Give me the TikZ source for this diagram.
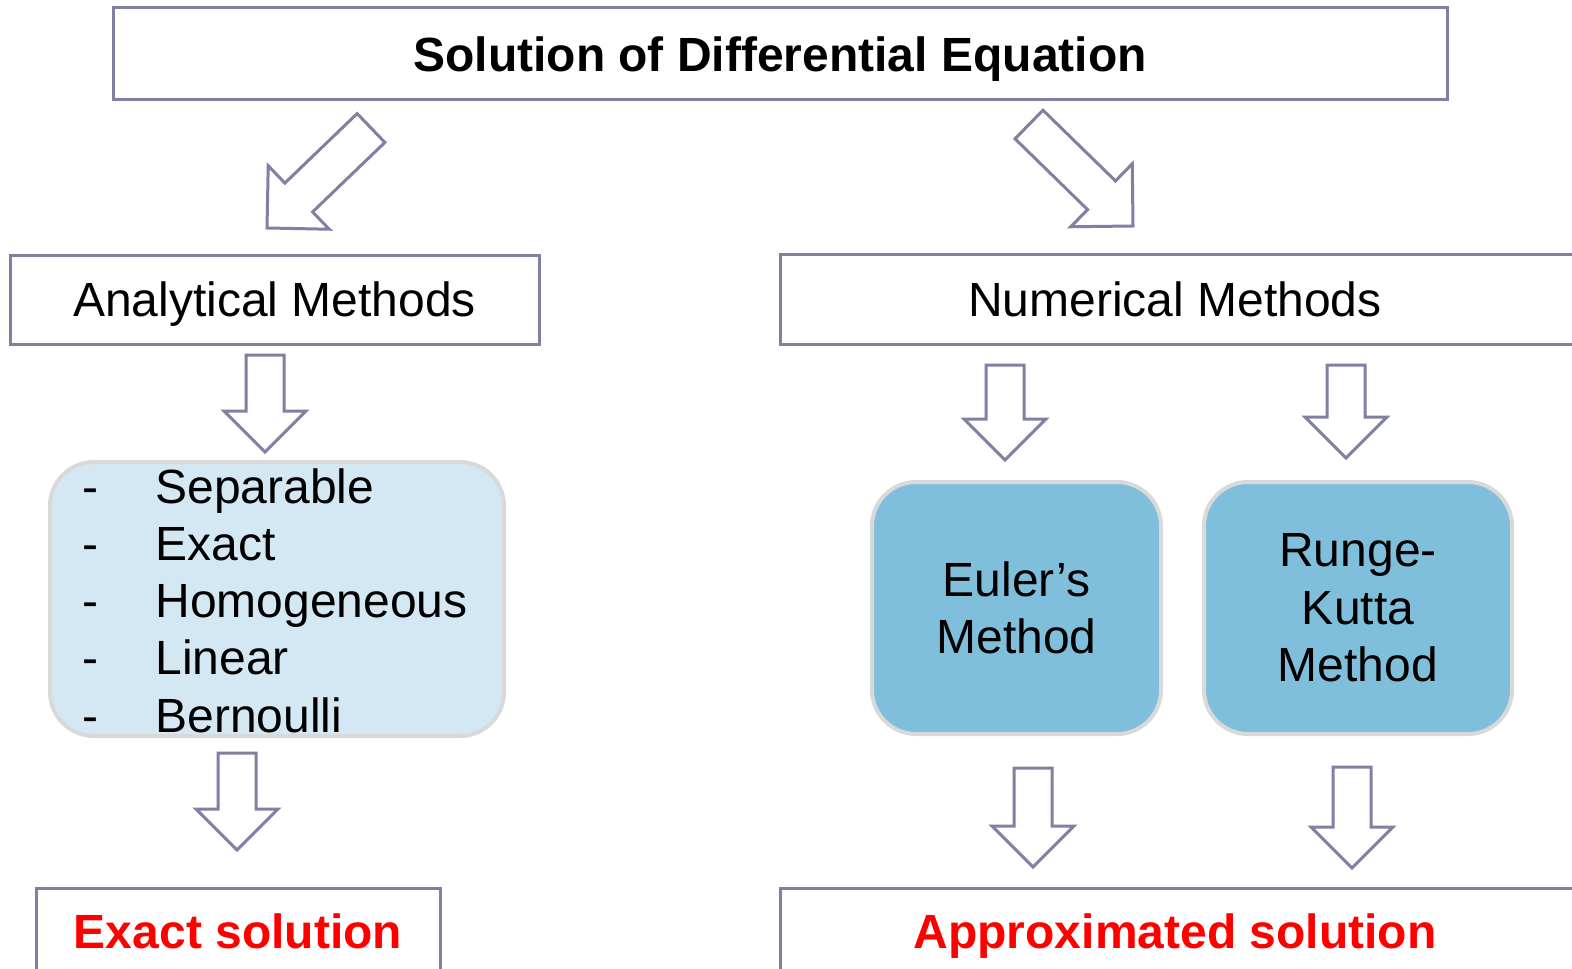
\documentclass[tikz,border=0pt]{standalone}
\usepackage{fontspec}
\setmainfont{Liberation Sans}
\usetikzlibrary{calc}
\definecolor{edgec}{RGB}{128,128,162}
\definecolor{lightfill}{RGB}{211,232,242}
\definecolor{midfill}{RGB}{127,191,219}
\definecolor{softgray}{RGB}{217,217,217}
\definecolor{redtxt}{RGB}{255,0,0}
\newcommand\blockarrow[4]{%
  \coordinate (ba) at ($(#2)!#4!(#1)$);
  \draw[arrowshape] ($(#1)!#3!90:(#2)$) -- ($(ba)!#3!90:(#2)$) -- ($(ba)!#4!90:(#2)$) -- (#2)
    -- ($(ba)!#4!-90:(#2)$) -- ($(ba)!#3!-90:(#2)$) -- ($(#1)!#3!-90:(#2)$) -- cycle;
}
\tikzset{
  plainbox/.style={draw=edgec, line width=1.5pt, fill=white, inner sep=0pt, text depth=0pt, font=\fontsize{24}{28.7}\selectfont},
  roundbox/.style={draw=softgray, line width=2pt, rounded corners=22pt, inner sep=0pt, font=\fontsize{24}{28.75}\selectfont, align=center},
  arrowshape/.style={draw=edgec, line width=1.5pt, fill=white, line join=miter},
  listtxt/.style={anchor=base west, inner sep=0pt, font=\fontsize{24}{28.7}\selectfont}
}
\begin{document}
\begin{tikzpicture}[x=0.5pt,y=-0.5pt]
\useasboundingbox (0,0) rectangle (1572,968);
\clip (0,0) rectangle (1572,968);
\fill[white] (0,0) rectangle (1572,968);

% boxes
\node[plainbox, minimum width=667pt, minimum height=46pt, font=\fontsize{24}{28.7}\selectfont\bfseries] (title) at (780,54) {Solution of Differential Equation};
\node[plainbox, minimum width=264.5pt, minimum height=44.5pt] (anal) at (274.5,299.5) {Analytical Methods};
\node[plainbox, minimum width=400pt, minimum height=45pt] (numer) at (1180,299.5) {\hspace*{-5pt}Numerical Methods};

\node[roundbox, fill=lightfill, minimum width=227pt, minimum height=137pt] (list) at (277,599) {};
\foreach \t [count=\i] in {Separable,Exact,Homogeneous,Linear,Bernoulli}{
  \node[listtxt] (dash\i) at (82,{503+57.25*(\i-1)}) {-};
  \node[listtxt] (item\i) at (155,{503+57.25*(\i-1)}) {\t};
}

\node[roundbox, fill=midfill, minimum width=144.5pt, minimum height=126pt] (euler) at (1016.5,608) {Euler’s\\Method};
\node[roundbox, fill=midfill, minimum width=154pt, minimum height=126pt] (rk) at (1358,608) {Runge-\\Kutta\\Method};

\node[plainbox, minimum width=202pt, minimum height=43pt, font=\fontsize{24}{28.7}\selectfont\bfseries, text=redtxt] (exact) at (238,931) {Exact solution};
\node[plainbox, minimum width=400pt, minimum height=43pt, font=\fontsize{24}{28.7}\selectfont\bfseries, text=redtxt] (approx) at (1180,931) {\hspace*{-5pt}Approximated solution};

% block arrows
\coordinate (d1t) at (371,128); \coordinate (d1p) at (267,228);
\coordinate (d2t) at (1029,124.5); \coordinate (d2p) at (1133,226);
\blockarrow{d1t}{d1p}{10pt}{22pt}
\blockarrow{d2t}{d2p}{10pt}{22pt}

\coordinate (a1t) at (265,355); \coordinate (a1p) at (265,452);
\coordinate (a2t) at (1005,365); \coordinate (a2p) at (1005,460);
\coordinate (a3t) at (1346,365); \coordinate (a3p) at (1346,458);
\coordinate (a4t) at (237,753); \coordinate (a4p) at (237,850);
\coordinate (a5t) at (1033,768); \coordinate (a5p) at (1033,867);
\coordinate (a6t) at (1352,767); \coordinate (a6p) at (1352,868);
\foreach \k in {1,...,6}{
  \blockarrow{a\k t}{a\k p}{9.5pt}{20.5pt}
}
\end{tikzpicture}
\end{document}
